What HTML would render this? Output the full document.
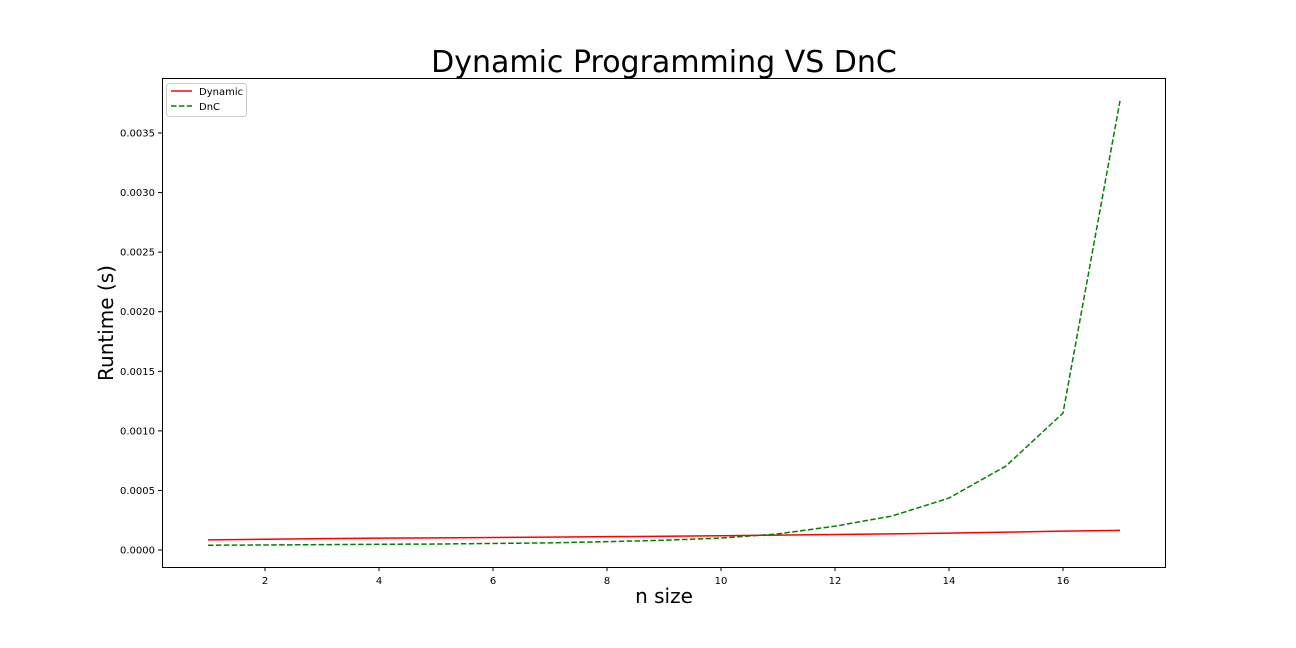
<!DOCTYPE html>
<html><head><meta charset="utf-8"><style>
body{margin:0;background:#fff;}
svg{display:block;font-family:"DejaVu Sans","Liberation Sans",sans-serif;}
</style></head><body>
<svg id="chart" width="1296" height="648">
<rect width="1296" height="648" fill="#fff"/>
<text x="664" y="72" font-size="30" text-anchor="middle">Dynamic Programming VS DnC</text>
<text x="664" y="603" font-size="20" text-anchor="middle">n size</text>
<text x="113" y="323" font-size="20" text-anchor="middle" transform="rotate(-90 113 323)">Runtime (s)</text>
<g id="ticks"></g>
<g id="series"></g>
<rect x="162.5" y="78.5" width="1003" height="489" fill="none" stroke="#000" stroke-width="1"/>
<g>
<rect x="166.5" y="83.5" width="80" height="33" rx="3" fill="#fff" stroke="#ccc"/>
<g><line x1="171" y1="91" x2="192" y2="91" stroke="red" stroke-width="1.5"/><text x="199" y="95" font-size="10">Dynamic</text></g>
<g><line x1="171" y1="106" x2="192" y2="106" stroke="green" stroke-width="1.5" stroke-dasharray="5.5,2.4"/><text x="199" y="110" font-size="10">DnC</text></g>
</g>
</svg>
<script>
const nValues=[1,2,3,4,5,6,7,8,9,10,11,12,13,14,15,16,17];
const dynamicValues=[0.000085,0.00009,0.000095,0.0001,0.000102,0.000105,0.000108,0.000112,0.000115,0.00012,0.000125,0.00013,0.000135,0.000142,0.00015,0.000158,0.000165];
const dncValues=[0.00004,0.000042,0.000045,0.000048,0.00005,0.000055,0.00006,0.00007,0.000082,0.0001,0.000135,0.0002,0.000285,0.000436,0.000705,0.00115,0.00377];
const xTicks=[2,4,6,8,10,12,14,16];
const yTicks=[0,0.0005,0.001,0.0015,0.002,0.0025,0.003,0.0035];
const yTickLabels=["0.0000","0.0005","0.0010","0.0015","0.0020","0.0025","0.0030","0.0035"];
const xs=v=>208+(v-1)*57;
const ys=v=>550-v*(59.57/0.0005);
const NS="http://www.w3.org/2000/svg";
const tg=document.getElementById('ticks'), sg=document.getElementById('series');
function mk(tag,attrs,parent){const e=document.createElementNS(NS,tag);for(const k in attrs)e.setAttribute(k,attrs[k]);parent.appendChild(e);return e;}
xTicks.forEach(t=>{
  const g=mk('g',{},tg);
  
  
  mk('line',{x1:xs(t),x2:xs(t),y1:567,y2:571,stroke:'#000'},g);
  const tx=mk('text',{x:xs(t),y:584,'font-size':10,'text-anchor':'middle'},g);tx.textContent=t;
});
yTicks.forEach((t,i)=>{
  const g=mk('g',{},tg);
  
  
  mk('line',{x1:158,x2:162,y1:ys(t),y2:ys(t),stroke:'#000'},g);
  const tx=mk('text',{x:155,y:ys(t)+3.5,'font-size':10,'text-anchor':'end'},g);tx.textContent=yTickLabels[i];
});
const pts=a=>a.map((v,i)=>xs(nValues[i])+','+ys(v)).join(' ');
const l1=mk('polyline',{points:pts(dynamicValues),fill:'none',stroke:'red','stroke-width':1.5},sg);


const l2=mk('polyline',{points:pts(dncValues),fill:'none',stroke:'green','stroke-width':1.5,'stroke-dasharray':'5.5,2.4'},sg);


</script>
</body></html>
